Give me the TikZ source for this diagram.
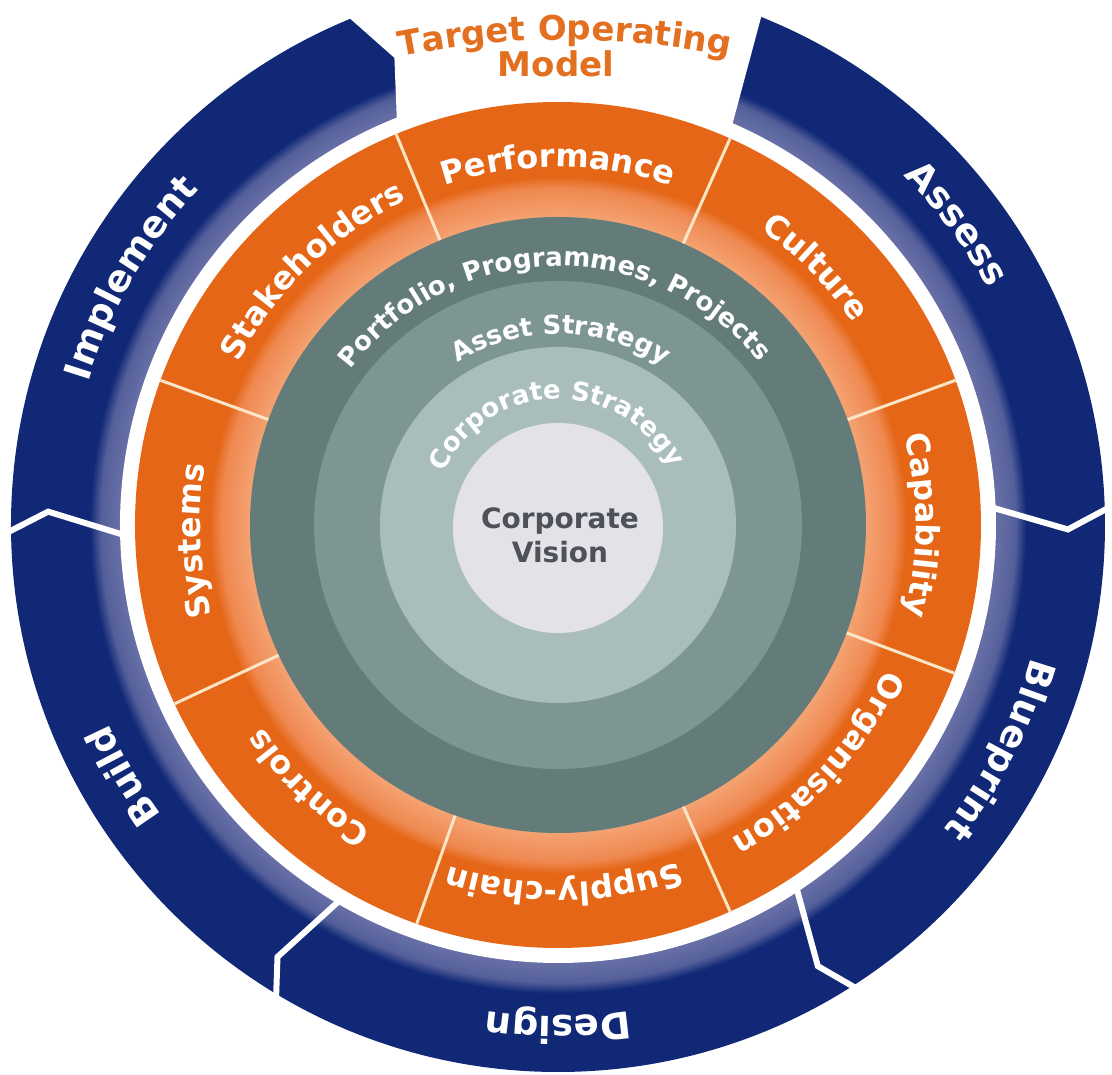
\documentclass[tikz,border=0pt]{standalone}
\usepackage{fontspec}
\setmainfont{DejaVu Sans}
\usetikzlibrary{decorations.text}
\definecolor{navy}{RGB}{16,40,118}
\definecolor{bandlt}{RGB}{104,112,166}
\definecolor{bandmd}{RGB}{84,95,154}
\definecolor{orng}{RGB}{228,102,22}
\definecolor{olta}{RGB}{244,162,114}
\definecolor{oltb}{RGB}{239,136,80}
\definecolor{gdark}{RGB}{100,124,121}
\definecolor{gmid}{RGB}{126,150,147}
\definecolor{glight}{RGB}{170,189,189}
\definecolor{gcore}{RGB}{226,226,231}
\definecolor{cvtext}{RGB}{78,80,90}
\definecolor{tomtext}{RGB}{226,112,32}
\definecolor{sepline}{RGB}{252,228,198}
\pgfdeclareradialshading{bluering}{\pgfpoint{0bp}{0bp}}{color(0bp)=(navy); color(19.9bp)=(navy); color(20bp)=(bandlt); color(20.9bp)=(bandmd); color(21.4bp)=(navy); color(25bp)=(navy); color(50bp)=(navy)}
\pgfdeclareradialshading{orangering}{\pgfpoint{0bp}{0bp}}{color(0bp)=(olta); color(18.2bp)=(olta); color(19.9bp)=(oltb); color(20.6bp)=(orng); color(25bp)=(orng); color(50bp)=(orng)}
\newcommand\bluefnt{\bfseries\fontsize{37}{40}\selectfont}
\newcommand\orfnt{\bfseries\fontsize{32}{36}\selectfont}
\newcommand\grfnt{\bfseries\fontsize{26}{30}\selectfont}
\newcommand\tomfnt{\bfseries\fontsize{34}{38}\selectfont}
\newcommand\arclabel[5]{\path[decorate, decoration={text along path, text align=center, text color=#5, text={|#3|#4}}] (#1+85:#2pt) arc[start angle=#1+85, end angle=#1-85, radius=#2pt];}
\begin{document}
\begin{tikzpicture}[x=1pt,y=1pt]
\tikzset{gapline/.style={draw=white, line width=6pt, line join=miter, line cap=butt},
 sepstyle/.style={draw=sepline, line width=3pt}}
\useasboundingbox[fill=white] (-558,-550) rectangle (554,525);
% blue process ring
\shade[shading=bluering] (0,0) circle[radius=547pt];
\fill[white] (0,0) circle[radius=438pt];
\draw[gapline] (181.5:565pt) -- (178.5:510pt) -- (181.5:430pt);
\draw[gapline] (2.5:565pt) -- (-0.5:510pt) -- (2.5:430pt);
\draw[gapline] (-56.5:565pt) -- (-59.5:512pt) -- (-56.5:430pt);
\draw[gapline] (-120:565pt) -- (-123:515pt) -- (-120:430pt);
\fill[white] (112.3:580pt) -- (112.3:547pt) -- (109.3:495pt) -- (111.6:438pt) -- (111.6:428pt)
  arc[start angle=111.6, end angle=66.5, radius=428pt] -- (66.5:438pt) -- (68.2:547pt) -- (68.2:580pt)
  arc[start angle=68.2, end angle=112.3, radius=580pt] -- cycle;
% orange ring
\shade[shading=orangering] (0,0) circle[radius=423pt];
\foreach \a in {112.5,66,20,-20.5,-66,-109.5,-155,160} \draw[sepstyle] (\a:300pt) -- (\a:423pt);
% grey discs
\fill[gdark] (0,0) circle[radius=308pt];
\fill[gmid] (0,0) circle[radius=244pt];
\fill[glight] (0,0) circle[radius=178pt];
\fill[gcore] (0,-3) circle[radius=105pt];
% blue labels
\arclabel{150}{491}{\bluefnt}{Implement}{white}
\arclabel{37}{491}{\bluefnt}{Assess}{white}
\arclabel{-27}{491}{\bluefnt}{Blueprint}{white}
\arclabel{-90}{491}{\bluefnt}{Design}{white}
\arclabel{210}{491}{\bluefnt}{Build}{white}
% orange labels
\arclabel{90}{358}{\orfnt}{Performance}{white}
\arclabel{45}{358}{\orfnt}{Culture}{white}
\arclabel{0}{358}{\orfnt}{Capability}{white}
\arclabel{-42.5}{358}{\orfnt}{Organisation}{white}
\arclabel{-89}{358}{\orfnt}{Supply-chain}{white}
\arclabel{226.5}{358}{\orfnt}{Controls}{white}
\arclabel{182.5}{358}{\orfnt}{Systems}{white}
\arclabel{134}{358}{\orfnt}{Stakeholders}{white}
% grey labels
\arclabel{91}{259}{\grfnt}{Portfolio, Programmes, Projects}{white}
\arclabel{89}{191}{\grfnt}{Asset Strategy}{white}
\arclabel{91}{126}{\grfnt}{Corporate Strategy}{white}
% title
\path[decorate, decoration={text along path, text align=center, text color=tomtext, text={|\tomfnt|Target Operating}}]
  ([shift={(7,-345)}]104:830pt) arc[start angle=104, end angle=76, radius=830pt];
\node[font=\tomfnt, text=tomtext, anchor=base, inner sep=0pt] (tommodel) at (-2,448) {Model};
\node[font=\fontsize{28}{34}\selectfont\bfseries, text=cvtext, align=center] (cv) at (2,-10) {Corporate\\Vision};
\end{tikzpicture}
\end{document}
